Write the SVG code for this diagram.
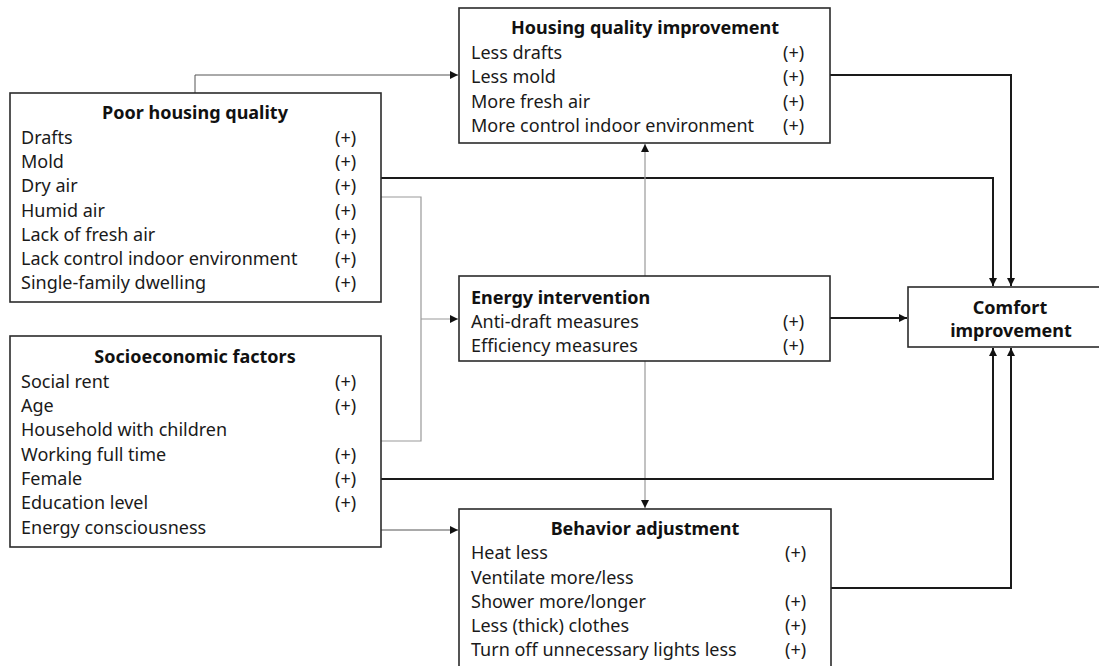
<svg xmlns="http://www.w3.org/2000/svg" width="1099" height="666" viewBox="0 0 1099 666">
  <style>
    .box { fill: #ffffff; stroke: #2b2b2b; stroke-width: 1.6; }
    .t { font-family: "Noto Sans", "Open Sans", sans-serif; font-size: 18px; fill: #1a1a1a; }
    .h { font-family: "Noto Sans", "Open Sans", sans-serif; font-size: 18px; font-weight: bold; fill: #111; }
    .c { font-family: "Noto Sans", "Open Sans", sans-serif; font-size: 18px; font-weight: bold; fill: #111; }
    .thick { fill: none; stroke: #1a1a1a; stroke-width: 2; }
    .thin { fill: none; stroke: #555; stroke-width: 1; }
    .grey { fill: none; stroke: #999; stroke-width: 1.2; }
  </style>
  <defs>
    <marker id="arr" viewBox="0 0 10 10" refX="10" refY="5" markerWidth="9" markerHeight="8" markerUnits="userSpaceOnUse" orient="auto">
      <path d="M0,0 L10,5 L0,10 Z" fill="#111"/>
    </marker>
  </defs>

  <rect width="1099" height="666" fill="#ffffff"/>

  <!-- connectors -->
  <g id="connectors">
    <path class="thin" d="M195,93 V75 H458" marker-end="url(#arr)"/>
    <path class="thick" d="M381,178 H993 V286" marker-end="url(#arr)"/>
    <path class="thick" d="M830,75 H1011 V286" marker-end="url(#arr)"/>
    <path class="grey" d="M381,197 H421 V441 H381"/>
    <path class="grey" d="M421,319 H458" marker-end="url(#arr)"/>
    <path class="grey" d="M645,276 V144" marker-end="url(#arr)"/>
    <path class="grey" d="M645,361 V508" marker-end="url(#arr)"/>
    <path class="thick" d="M830,318 H907" marker-end="url(#arr)"/>
    <path class="thick" d="M381,479 H993 V348" marker-end="url(#arr)"/>
    <path class="thin" d="M381,530 H458" marker-end="url(#arr)"/>
    <path class="thick" d="M831,588 H1011 V348" marker-end="url(#arr)"/>
  </g>

  <!-- Poor housing quality -->
  <g id="poor-housing">
    <rect class="box" x="10" y="93" width="371" height="209"/>
    <text class="h" x="195" y="119" text-anchor="middle">Poor housing quality</text>
    <text class="t" x="21" y="144">Drafts</text><text class="t" x="335" y="144">(+)</text>
    <text class="t" x="21" y="168">Mold</text><text class="t" x="335" y="168">(+)</text>
    <text class="t" x="21" y="192">Dry air</text><text class="t" x="335" y="192">(+)</text>
    <text class="t" x="21" y="217">Humid air</text><text class="t" x="335" y="217">(+)</text>
    <text class="t" x="21" y="241">Lack of fresh air</text><text class="t" x="335" y="241">(+)</text>
    <text class="t" x="21" y="265">Lack control indoor environment</text><text class="t" x="335" y="265">(+)</text>
    <text class="t" x="21" y="289">Single-family dwelling</text><text class="t" x="335" y="289">(+)</text>
  </g>

  <!-- Housing quality improvement -->
  <g id="housing-improvement">
    <rect class="box" x="459" y="8" width="371" height="135"/>
    <text class="h" x="645" y="34" text-anchor="middle">Housing quality improvement</text>
    <text class="t" x="471" y="59">Less drafts</text><text class="t" x="783" y="59">(+)</text>
    <text class="t" x="471" y="83">Less mold</text><text class="t" x="783" y="83">(+)</text>
    <text class="t" x="471" y="108">More fresh air</text><text class="t" x="783" y="108">(+)</text>
    <text class="t" x="471" y="132">More control indoor environment</text><text class="t" x="783" y="132">(+)</text>
  </g>

  <!-- Energy intervention -->
  <g id="energy-intervention">
    <rect class="box" x="459" y="276" width="371" height="85"/>
    <text class="h" x="471" y="304">Energy intervention</text>
    <text class="t" x="471" y="328">Anti-draft measures</text><text class="t" x="783" y="328">(+)</text>
    <text class="t" x="471" y="352">Efficiency measures</text><text class="t" x="783" y="352">(+)</text>
  </g>

  <!-- Socioeconomic factors -->
  <g id="socioeconomic">
    <rect class="box" x="10" y="336" width="371" height="211"/>
    <text class="h" x="195" y="363" text-anchor="middle">Socioeconomic factors</text>
    <text class="t" x="21" y="388">Social rent</text><text class="t" x="335" y="388">(+)</text>
    <text class="t" x="21" y="412">Age</text><text class="t" x="335" y="412">(+)</text>
    <text class="t" x="21" y="436">Household with children</text>
    <text class="t" x="21" y="461">Working full time</text><text class="t" x="335" y="461">(+)</text>
    <text class="t" x="21" y="485">Female</text><text class="t" x="335" y="485">(+)</text>
    <text class="t" x="21" y="509">Education level</text><text class="t" x="335" y="509">(+)</text>
    <text class="t" x="21" y="534">Energy consciousness</text>
  </g>

  <!-- Behavior adjustment -->
  <g id="behavior">
    <rect class="box" x="459" y="509" width="372" height="165"/>
    <text class="h" x="645" y="535" text-anchor="middle">Behavior adjustment</text>
    <text class="t" x="471" y="559">Heat less</text><text class="t" x="785" y="559">(+)</text>
    <text class="t" x="471" y="584">Ventilate more/less</text>
    <text class="t" x="471" y="608">Shower more/longer</text><text class="t" x="785" y="608">(+)</text>
    <text class="t" x="471" y="632">Less (thick) clothes</text><text class="t" x="785" y="632">(+)</text>
    <text class="t" x="471" y="656">Turn off unnecessary lights less</text><text class="t" x="785" y="656">(+)</text>
  </g>

  <!-- Comfort improvement -->
  <g id="comfort">
    <rect class="box" x="908" y="287" width="200" height="60"/>
    <text class="c" x="1010" y="314" text-anchor="middle">Comfort</text>
    <text class="c" x="1011" y="337" text-anchor="middle">improvement</text>
  </g>
</svg>
